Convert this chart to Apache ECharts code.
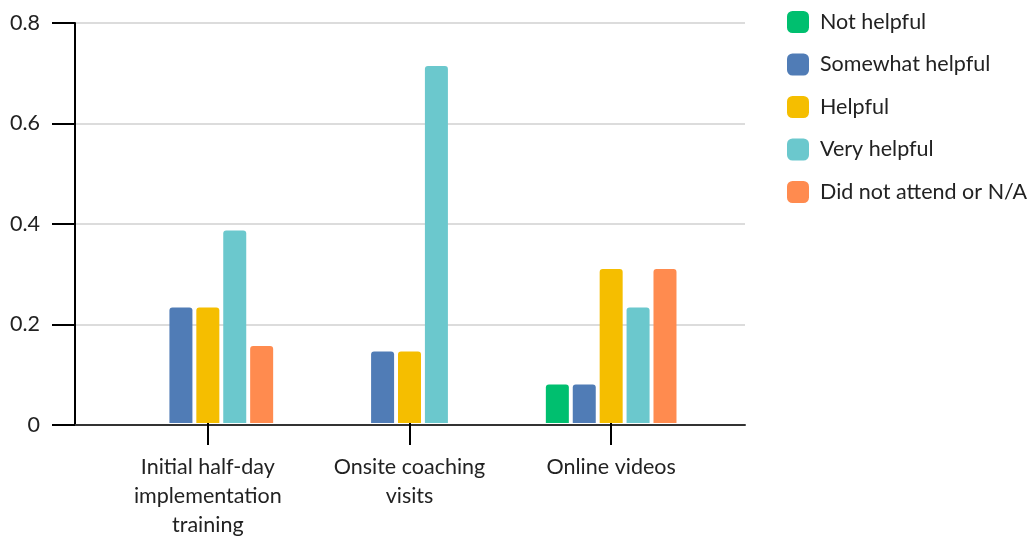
<!DOCTYPE html>
<html>
<head>
<meta charset="utf-8">
<script src="https://cdn.jsdelivr.net/npm/echarts@6/dist/echarts.min.js"></script>
<style>
  html, body { margin: 0; padding: 0; background: #fff; }
  #chart { width: 1031px; height: 540px; }
</style>
</head>
<body>
<div id="chart"></div>
<script>
// Categories along the x axis
const categories = [
  'Initial half-day\nimplementation\ntraining',
  'Onsite coaching\nvisits',
  'Online videos'
];

// Share of responses per rating, one value per category
const notHelpful      = [0,     0,     0.077];
const somewhatHelpful = [0.231, 0.143, 0.077];
const helpful         = [0.231, 0.143, 0.308];
const veryHelpful     = [0.385, 0.714, 0.231];
const didNotAttend    = [0.154, 0,     0.308];

const seriesNames = ['Not helpful', 'Somewhat helpful', 'Helpful', 'Very helpful', 'Did not attend or N/A'];
const seriesData  = [notHelpful, somewhatHelpful, helpful, veryHelpful, didNotAttend];
const colors      = ['#00BF6F', '#507CB6', '#F5BE00', '#6BC8CD', '#FF8B4F'];

const font = 'Lato, "Open Sans", sans-serif';
const fs = 21.5;

const chart = echarts.init(document.getElementById('chart'), null, { renderer: 'canvas' });

chart.setOption({
  animation: false,
  color: colors,
  textStyle: { fontFamily: font },
  // grid 0: outer frame (value axis, gridlines, baseline); grid 1: bar area, inset on both sides
  grid: [
    { left: 75, right: 286, top: 23, bottom: 115, containLabel: false },
    { left: 107, right: 319, top: 23, bottom: 115, containLabel: false }
  ],
  legend: {
    orient: 'vertical',
    left: 782,
    top: 6,
    itemWidth: 22,
    itemHeight: 22,
    itemGap: 20.5,
    icon: 'roundRect',
    data: seriesNames,
    textStyle: { fontFamily: font, fontSize: fs, color: '#222', padding: [0, 0, 0, 6] }
  },
  xAxis: [
    {
      gridIndex: 0,
      type: 'category',
      data: [''],
      axisLine: { lineStyle: { color: '#333', width: 2 } },
      axisTick: { show: false },
      axisLabel: { show: false }
    },
    {
      gridIndex: 1,
      type: 'category',
      data: categories,
      axisLine: { show: false },
      axisTick: { show: true, alignWithLabel: true, length: 22, lineStyle: { color: '#000', width: 2 } },
      axisLabel: { fontFamily: font, fontSize: fs, color: '#222', margin: 30, lineHeight: 29 }
    }
  ],
  yAxis: [
    {
      gridIndex: 0,
      type: 'value',
      min: 0,
      max: 0.8,
      interval: 0.2,
      axisLine: { show: true, lineStyle: { color: '#000', width: 2 } },
      axisTick: { show: true, length: 23, lineStyle: { color: '#000', width: 2 } },
      axisLabel: { fontFamily: font, fontSize: fs, color: '#222', margin: 35 },
      splitLine: { lineStyle: { color: '#d0d0d0', width: 1.5 } }
    },
    {
      gridIndex: 1,
      type: 'value',
      min: 0,
      max: 0.8,
      interval: 0.2,
      show: false,
      splitLine: { show: false }
    }
  ],
  series: seriesNames.map((name, i) => ({
    name: name,
    type: 'bar',
    xAxisIndex: 1,
    yAxisIndex: 1,
    data: seriesData[i],
    barWidth: 23,
    barGap: '17%',
    itemStyle: { borderRadius: [3, 3, 0, 0] }
  }))
});
</script>
</body>
</html>
